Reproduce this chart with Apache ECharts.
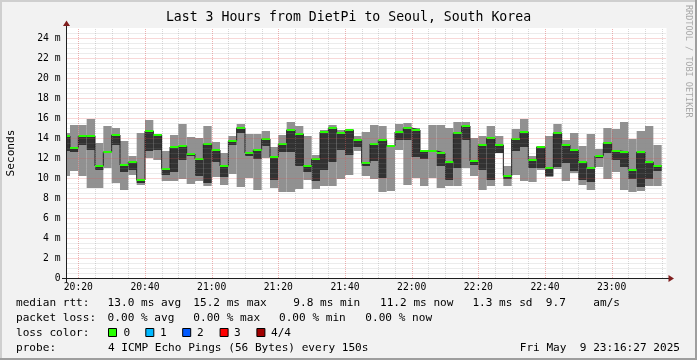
<!DOCTYPE html>
<html><head><meta charset="utf-8">
<script src="https://cdn.jsdelivr.net/npm/echarts@6/dist/echarts.min.js"></script>
<style>html,body{margin:0;padding:0;background:#f2f2f2;overflow:hidden}#c{width:697px;height:360px}</style>
</head><body><div id="c"></div>
<script>
// ---------- data ----------
const chartTitle = 'Last 3 Hours from DietPi to Seoul, South Korea';
// x positions are minutes after 20:00
const viewStart = 16.45;   // 20:16:27
const viewEnd = 196.45;    // 23:16:27
const firstBoundary = 17.5; // 20:17:30 (150 s step boundary)
const stepMinutes = 2.5;   // 150 s
const xTickValues = [20, 40, 60, 80, 100, 120, 140, 160, 180];
const xTickLabels = ['20:20', '20:40', '21:00', '21:20', '21:40', '22:00', '22:20', '22:40', '23:00'];
const yTickValues = [0, 2, 4, 6, 8, 10, 12, 14, 16, 18, 20, 22, 24];
const yTickLabels = ['0', '2 m', '4 m', '6 m', '8 m', '10 m', '12 m', '14 m', '16 m', '18 m', '20 m', '22 m', '24 m'];

// per 150 s step (ms): smallest ping, lower edge of dark band, median, largest ping
const pingMin = [10.2,10.7,10.2,9.0,9.0,11.0,9.5,8.8,10.3,9.3,12.0,11.8,9.7,9.7,9.9,9.4,9.7,9.2,10.1,9.3,10.4,9.1,10.0,8.8,12.0,9.0,8.6,8.6,8.9,9.8,8.9,9.2,9.2,9.9,10.3,12.7,10.2,9.9,8.6,8.7,12.8,9.3,10.0,9.2,10.0,9.0,9.2,9.2,11.0,10.2,8.8,9.2,12.5,9.2,10.3,9.7,9.6,10.8,10.1,10.9,9.7,10.5,9.3,8.8,11.1,9.9,10.6,8.8,8.6,8.7,9.2,9.2];
const pingLow = [12.7,12.6,13.3,12.8,10.8,12.6,13.3,10.6,10.8,9.5,12.7,12.8,10.3,10.6,11.8,12.2,10.2,9.5,11.6,10.1,13.3,14.5,12.2,11.9,13.2,9.8,12.6,12.6,11.2,10.6,9.7,10.8,11.6,12.8,12.3,13.1,11.2,11.7,10.0,13.1,13.8,13.8,12.1,11.9,12.6,11.2,9.8,11.0,13.8,11.3,10.8,9.8,12.5,9.9,12.7,13.1,11.0,11.0,10.2,11.1,11.5,10.7,9.8,9.6,12.0,12.5,11.8,11.1,9.9,9.1,9.9,10.7];
const pingMedian = [14.2,13.0,14.2,14.2,11.2,12.6,14.3,11.3,11.6,9.8,14.7,14.3,10.9,13.1,13.2,12.4,11.9,13.4,12.8,11.2,13.7,15.0,12.5,12.8,13.9,12.1,13.4,14.8,14.4,11.2,11.9,14.6,15.0,14.5,14.8,13.8,11.5,13.4,13.8,13.2,14.6,15.0,14.8,12.7,12.7,12.5,11.6,14.5,15.2,11.7,13.3,14.0,13.3,10.2,13.9,14.6,11.8,13.1,11.0,14.5,13.3,12.8,11.6,11.0,12.2,13.5,12.7,12.6,10.8,12.6,11.6,11.2];
const pingMax = [14.5,15.3,15.3,15.9,13.5,15.2,15.0,13.7,12.2,14.5,15.8,14.4,12.7,14.3,15.4,14.1,14.0,15.2,13.6,12.5,14.2,15.4,14.4,14.4,14.7,13.1,14.3,15.6,15.2,14.2,12.3,14.8,15.3,14.8,14.9,14.2,14.6,15.3,15.2,13.3,15.4,15.5,15.0,12.7,15.3,15.3,15.0,15.6,15.6,14.0,14.2,15.2,14.2,11.2,14.9,15.9,12.2,13.2,14.2,15.4,13.8,14.5,13.2,14.4,12.9,15.0,14.9,15.6,13.9,14.7,15.2,13.3];

const legendRows = [
  {y: 303, parts: [[16, 'median rtt:'], [107.6, '13.0 ms avg'], [193.3, '15.2 ms max'], [293.3, '9.8 ms min'], [380, '11.2 ms now'], [472.4, '1.3 ms sd'], [545.8, '9.7'], [593.3, 'am/s']]},
  {y: 318, parts: [[16, 'packet loss:'], [107.6, '0.00 % avg'], [193.3, '0.00 % max'], [279, '0.00 % min'], [365.3, '0.00 % now']]},
  {y: 333, parts: [[16, 'loss color:'], [123.6, '0'], [160, '1'], [197, '2'], [234, '3'], [271, '4/4']]},
  {y: 348, parts: [[16, 'probe:'], [108, '4 ICMP Echo Pings (56 Bytes) every 150s']]}
];
const lossBoxes = [[108, '#26ff00'], [145.3, '#00b8ff'], [182.2, '#0059ff'], [219.6, '#ff0000'], [256.4, '#a10000']];
const dateText = 'Fri May  9 23:16:27 2025';
const watermark = 'RRDTOOL / TOBI OETIKER';

// ---------- build ----------
const MONO = '"DejaVu Sans Mono", monospace';
const blocks = pingMedian.map((m, i) => {
  const s = i === 0 ? viewStart : firstBoundary + stepMinutes * (i - 1);
  const e = firstBoundary + stepMinutes * i;
  return [s, e, pingMin[i], pingLow[i], m, pingMax[i]];
});
const medianLine = blocks.map(b => [b[0], b[4]]);
medianLine.push([blocks[blocks.length - 1][1], blocks[blocks.length - 1][4]]);

const vGrid = [];
for (let v = 20; v <= 195; v += 5) vGrid.push([v, v % 20 === 0 ? 1 : 0]);
const hGrid = [];
for (let v = 0.5; v <= 24.5; v += 0.5) hGrid.push([viewStart, v, (v % 2 === 0) ? 1 : 0]);

const crisp = v => Math.round(v) + 0.5;
const minorCol = 'rgba(143,143,143,0.34)';
const majorCol = 'rgba(222,79,79,0.45)';

const graphics = [];
// frame shading
graphics.push({type: 'rect', shape: {x: 0, y: 0, width: 697, height: 2}, style: {fill: '#cfcfcf'}, silent: true});
graphics.push({type: 'rect', shape: {x: 0, y: 0, width: 2, height: 360}, style: {fill: '#cfcfcf'}, silent: true});
graphics.push({type: 'rect', shape: {x: 0, y: 358, width: 697, height: 2}, style: {fill: '#9e9e9e'}, silent: true});
graphics.push({type: 'rect', shape: {x: 695, y: 0, width: 2, height: 360}, style: {fill: '#9e9e9e'}, silent: true});
// axis lines and arrows
graphics.push({type: 'line', shape: {x1: 66.5, y1: 282, x2: 66.5, y2: 24}, style: {stroke: '#1f1f1f', lineWidth: 1}, z: 50});
graphics.push({type: 'line', shape: {x1: 62, y1: 278.5, x2: 670, y2: 278.5}, style: {stroke: '#1f1f1f', lineWidth: 1}, z: 50});
graphics.push({type: 'polygon', shape: {points: [[66.5, 20.5], [63, 26], [70, 26]]}, style: {fill: '#801f1f'}, z: 51});
graphics.push({type: 'polygon', shape: {points: [[674, 278.5], [668.5, 275], [668.5, 282]]}, style: {fill: '#801f1f'}, z: 51});
// legend
legendRows.forEach(r => r.parts.forEach(p => graphics.push({
  type: 'text', x: p[0], y: r.y, style: {text: p[1], font: '11.1px ' + MONO, fill: '#000', textVerticalAlign: 'middle'}, silent: true
})));
lossBoxes.forEach(b => graphics.push({
  type: 'rect', shape: {x: b[0] + 0.5, y: 328.5, width: 8, height: 8}, style: {fill: b[1], stroke: '#000', lineWidth: 1}, silent: true
}));
graphics.push({type: 'text', x: 680, y: 348, style: {text: dateText, font: '11.1px ' + MONO, fill: '#000', textAlign: 'right', textVerticalAlign: 'middle'}, silent: true});
graphics.push({type: 'text', x: 688, y: 5, rotation: -Math.PI / 2, style: {text: watermark, font: '8.5px ' + MONO, fill: '#a8a8a8', textAlign: 'left', textVerticalAlign: 'middle'}, silent: true});

const chart = echarts.init(document.getElementById('c'), null, {renderer: 'canvas'});
chart.setOption({
  animation: false,
  backgroundColor: '#f2f2f2',
  title: {text: chartTitle, left: 'center', top: 11, padding: 0,
    textStyle: {fontFamily: MONO, fontSize: 13.2, fontWeight: 'normal', color: '#000'}},
  grid: {left: 66.5, top: 28, width: 600, height: 250, show: true, backgroundColor: '#ffffff', borderWidth: 0,
    containLabel: false, outerBoundsMode: 'none'},
  xAxis: {
    type: 'value', min: viewStart, max: viewEnd,
    axisLine: {show: false}, axisTick: {show: false}, splitLine: {show: false},
    axisLabel: {customValues: xTickValues, formatter: v => xTickLabels[xTickValues.indexOf(v)] || '',
      fontFamily: MONO, fontSize: 9.7, color: '#000', margin: 4}
  },
  yAxis: {
    type: 'value', min: 0, max: 25, interval: 2,
    name: 'Seconds', nameLocation: 'middle', nameRotate: 90, nameGap: 50,
    nameTextStyle: {fontFamily: MONO, fontSize: 11.1, color: '#000'},
    axisLine: {show: false}, axisTick: {show: false}, splitLine: {show: false},
    axisLabel: {customValues: yTickValues, formatter: v => yTickLabels[yTickValues.indexOf(v)] || '',
      fontFamily: MONO, fontSize: 9.7, color: '#000', margin: 6}
  },
  series: [
    {
      type: 'custom', name: 'smoke', z: 2, clip: true, silent: true, data: blocks,
      renderItem: (params, api) => {
        const s = api.value(0), e = api.value(1), mn = api.value(2), lo = api.value(3), md = api.value(4), mx = api.value(5);
        const a = api.coord([s, mx]), b = api.coord([e, mn]);
        const c = api.coord([s, Math.max(lo, md)]), d = api.coord([e, Math.min(lo, md)]);
        return {type: 'group', children: [
          {type: 'rect', shape: {x: a[0], y: a[1], width: b[0] - a[0], height: b[1] - a[1]}, style: {fill: '#919191'}},
          {type: 'rect', shape: {x: c[0], y: c[1], width: d[0] - c[0], height: d[1] - c[1]}, style: {fill: '#323232'}}
        ]};
      }
    },
    {
      type: 'line', name: 'median', z: 3, step: 'end', data: medianLine, symbol: 'none', silent: true,
      lineStyle: {color: '#202020', width: 1}
    },
    {
      type: 'custom', name: 'median loss colour', z: 4, clip: true, silent: true, data: blocks,
      renderItem: (params, api) => {
        const a = api.coord([api.value(0), api.value(4)]), b = api.coord([api.value(1), api.value(4)]);
        return {type: 'rect', shape: {x: a[0], y: a[1] - 1, width: b[0] - a[0], height: 2}, style: {fill: '#26ff00'}};
      }
    },
    {
      type: 'custom', name: 'vgrid', z: 5, clip: true, silent: true, data: vGrid,
      renderItem: (params, api) => {
        const p = api.coord([api.value(0), 0]), q = api.coord([api.value(0), 25]);
        const x = crisp(p[0]);
        return {type: 'line', shape: {x1: x, y1: p[1], x2: x, y2: q[1]},
          style: {stroke: api.value(1) ? majorCol : minorCol, lineWidth: 1, lineDash: [1, 1]}};
      }
    },
    {
      type: 'custom', name: 'hgrid', z: 5, clip: true, silent: true, data: hGrid,
      renderItem: (params, api) => {
        const p = api.coord([viewStart, api.value(1)]), q = api.coord([viewEnd, api.value(1)]);
        const y = crisp(p[1]);
        return {type: 'line', shape: {x1: p[0], y1: y, x2: q[0], y2: y},
          style: {stroke: api.value(2) ? majorCol : minorCol, lineWidth: 1, lineDash: [1, 1]}};
      }
    }
  ],
  graphic: graphics
});
</script></body></html>
